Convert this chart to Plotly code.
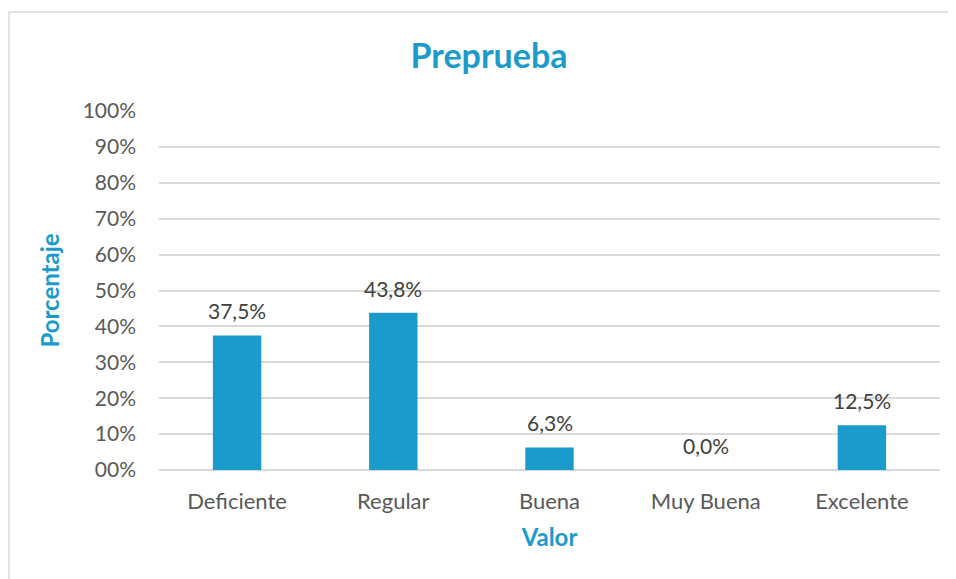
import plotly.graph_objects as go

categories = ["Deficiente", "Regular", "Buena", "Muy Buena", "Excelente"]
values = [0.375, 0.438, 0.063, 0.0, 0.125]
value_labels = ["37,5%", "43,8%", "6,3%", "0,0%", "12,5%"]
y_tickvals = [0, 0.1, 0.2, 0.3, 0.4, 0.5, 0.6, 0.7, 0.8, 0.9, 1.0]
y_ticktext = ["00%", "10%", "20%", "30%", "40%", "50%", "60%", "70%", "80%", "90%", "100%"]

BLUE = "#1B9ACC"
GRID = "#D9D9D9"
FONT = "Lato, Open Sans, sans-serif"

# page has an 8px body margin; work in page coordinates and offset
OFF = 8
W, H = 956 - OFF, 579 - OFF
L, R, T, B = 159 - OFF, 16, 111 - OFF, 109
pw = W - L - R
ph = H - T - B

def px(x):
    return (x - OFF - L) / pw

def py(y):
    return (H - B - (y - OFF)) / ph

fig = go.Figure()
fig.add_trace(go.Bar(
    x=categories, y=values, marker=dict(color=BLUE, line=dict(width=0)),
    width=0.31, hoverinfo="skip",
))

for c, v, t in zip(categories, values, value_labels):
    fig.add_annotation(x=c, y=v, text=t, showarrow=False, yanchor="bottom",
                       yshift=10, font=dict(family=FONT, size=21, color="#404040"))

# chart border (top and left visible)
fig.add_shape(type="line", xref="paper", yref="paper", x0=px(9), x1=px(970), y0=py(12), y1=py(12),
              line=dict(color=GRID, width=1.5))
fig.add_shape(type="line", xref="paper", yref="paper", x0=px(9), x1=px(9), y0=py(12), y1=py(600),
              line=dict(color=GRID, width=1.5))

fig.update_layout(
    width=W, height=H,
    margin=dict(l=L, r=R, t=T, b=B),
    paper_bgcolor="white", plot_bgcolor="white",
    showlegend=False,
    font=dict(family=FONT, size=21, color="#595959"),
    title=dict(text="<b>Preprueba</b>", x=(489 - OFF) / W, xref="container", xanchor="center",
               y=1 - (56 - OFF) / H, yref="container", yanchor="middle",
               font=dict(family=FONT, size=34, color=BLUE)),
    xaxis=dict(showgrid=False, showline=False, zeroline=False, ticks="",
               ticklabelstandoff=16,
               tickfont=dict(family=FONT, size=22, color="#595959"),
               title=dict(text="<b>Valor</b>", standoff=16,
                          font=dict(family=FONT, size=24, color=BLUE))),
    yaxis=dict(range=[0, 1.0], tickvals=y_tickvals, ticktext=y_ticktext,
               showgrid=True, gridcolor=GRID, gridwidth=1.5,
               zeroline=True, zerolinecolor=GRID, zerolinewidth=1.5,
               showline=False, ticks="", ticklabelstandoff=22,
               tickfont=dict(family=FONT, size=21, color="#595959"),
               title=dict(text="<b>Porcentaje</b>", standoff=16,
                          font=dict(family=FONT, size=24, color=BLUE))),
)

fig.write_html("out.html")
